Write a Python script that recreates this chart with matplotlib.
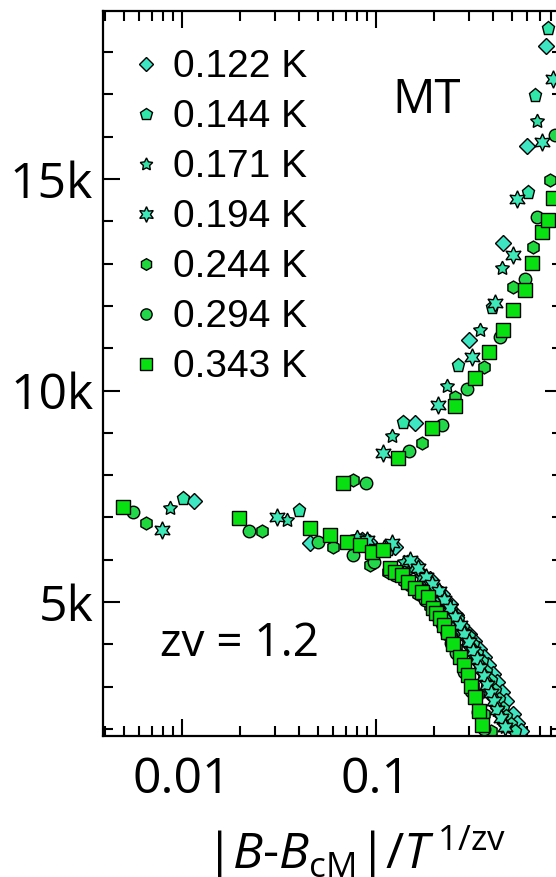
import matplotlib.pyplot as plt
from matplotlib.ticker import LogLocator, MultipleLocator, FuncFormatter, NullFormatter

plt.rcParams['font.family'] = ['Open Sans', 'DejaVu Sans']
plt.rcParams['mathtext.fontset'] = 'custom'
plt.rcParams['mathtext.rm'] = 'Open Sans'
plt.rcParams['mathtext.it'] = 'Open Sans:italic'

# scaled resistance vs scaling variable, one list pair per temperature
t122_x = [0.0116, 0.0457, 0.092, 0.125, 0.16, 0.19, 0.22, 0.24, 0.26, 0.30, 0.32, 0.34, 0.36, 0.38, 0.40,
          0.42, 0.445, 0.47, 0.51, 0.535, 0.56,
          0.1589, 0.3026, 0.4529, 0.6023, 0.7518]
t122_y = [7390, 6390, 6420, 6300, 5900, 5550, 5200, 4950, 4700, 4250, 4080, 3900, 3700, 3500, 3300,
          3100, 2880, 2650, 2350, 2150, 1950,
          9225, 11190, 13480, 15780, 18140]

t144_x = [0.0101, 0.0402, 0.085, 0.115, 0.145, 0.175, 0.19, 0.21, 0.23, 0.245, 0.265, 0.28, 0.30, 0.315,
          0.33, 0.35, 0.37, 0.39, 0.41, 0.43, 0.45, 0.47, 0.495, 0.52,
          0.1373, 0.2656, 0.3948, 0.6096, 0.6601, 0.7727]
t144_y = [7450, 7175, 6500, 6250, 5950, 5650, 5450, 5250, 5000, 4800, 4600, 4400, 4200, 4000,
          3800, 3600, 3380, 3150, 2930, 2700, 2500, 2300, 2120, 1950,
          9250, 10600, 11980, 14700, 16990, 18560]

t171_x = [0.00867, 0.0346, 0.0795, 0.11, 0.14, 0.155, 0.17, 0.185, 0.20, 0.215, 0.23, 0.245, 0.26, 0.275,
          0.29, 0.305, 0.32, 0.335, 0.35, 0.365, 0.38, 0.40, 0.42, 0.44, 0.46,
          0.1205, 0.2314, 0.3436, 0.4444, 0.6783]
t171_y = [7220, 6940, 6540, 6300, 5950, 5780, 5600, 5420, 5250, 5050, 4850, 4650, 4450, 4270,
          4100, 3900, 3700, 3500, 3300, 3100, 2900, 2680, 2450, 2250, 2050,
          8925, 10110, 11430, 12890, 16380]

t194_x = [0.00786, 0.0308, 0.09, 0.1205, 0.15, 0.165, 0.18, 0.195, 0.21, 0.225, 0.24, 0.255, 0.27, 0.285,
          0.30, 0.315, 0.33, 0.345, 0.36, 0.375, 0.39, 0.405, 0.42, 0.44, 0.46,
          0.1083, 0.2094, 0.3113, 0.4105, 0.5101, 0.531, 0.7146, 0.8202]
t194_y = [6700, 7020, 6470, 6390, 6000, 5800, 5600, 5420, 5250, 5050, 4850, 4650, 4450, 4250,
          4050, 3850, 3650, 3450, 3250, 3050, 2850, 2650, 2450, 2250, 2050,
          8515, 9655, 10800, 12060, 13200, 14520, 15880, 17360]

t244_x = [0.00652, 0.0259, 0.0602, 0.0931, 0.115, 0.14, 0.165, 0.19, 0.215, 0.23, 0.245, 0.26, 0.275,
          0.30, 0.315, 0.33, 0.36, 0.39,
          0.0764, 0.172, 0.2554, 0.3603, 0.5101, 0.6469, 0.7885]
t244_y = [6860, 6690, 6310, 5875, 5700, 5500, 5200, 4900, 4550, 4350, 4150, 3920, 3700,
          3250, 3020, 2800, 2350, 1950,
          7885, 8750, 9855, 10565, 12455, 13400, 14975]

t294_x = [0.00561, 0.0222, 0.0504, 0.0764, 0.098, 0.125, 0.150, 0.178, 0.205, 0.22, 0.232, 0.245, 0.26,
          0.285, 0.31, 0.335, 0.36,
          0.0888, 0.1484, 0.2181, 0.2934, 0.4356, 0.5861, 0.6736, 0.8369]
t294_y = [7135, 6690, 6425, 6110, 5950, 5650, 5400, 5050, 4700, 4480, 4250, 4020, 3800,
          3350, 2900, 2400, 2000,
          7820, 8580, 9185, 10030, 11270, 12630, 14110, 16040]

t343_x = [0.00495, 0.0197, 0.0457, 0.0579, 0.0706, 0.0827, 0.095, 0.1091, 0.1181, 0.125, 0.1357, 0.147,
          0.1589, 0.172, 0.186, 0.1974, 0.205, 0.2137, 0.225, 0.2359, 0.25, 0.27, 0.285, 0.299, 0.31,
          0.3237, 0.338, 0.3506,
          0.0678, 0.1302, 0.1937, 0.2554, 0.3237, 0.3837, 0.4497, 0.5101, 0.5861, 0.6348, 0.7146, 0.7727, 0.8202]
t343_y = [7255, 6980, 6745, 6585, 6425, 6350, 6190, 6230, 5795, 5720, 5640, 5480,
          5325, 5230, 5125, 4850, 4730, 4615, 4450, 4300, 4000, 3705, 3500, 3275, 3020,
          2760, 2430, 2095,
          7805, 8395, 9120, 9635, 10290, 10915, 11430, 11905, 12375, 13020, 13755, 14030, 14545]

labels = ['0.122 K', '0.144 K', '0.171 K', '0.194 K', '0.244 K', '0.294 K', '0.343 K']
xs = [t122_x, t144_x, t171_x, t194_x, t244_x, t294_x, t343_x]
ys = [t122_y, t144_y, t171_y, t194_y, t244_y, t294_y, t343_y]
markers = ['D', 'p', (5, 1, 0), (6, 1, 0), 'h', 'o', 's']
sizes = [8, 9.8, 10.5, 12.5, 9.3, 9, 10]
colors = ['#3ee6c4', '#30e6a8', '#34e0a6', '#3fe8b8', '#1ed83c', '#22d84a', '#08e012']

fig = plt.figure(figsize=(5.56, 8.77), dpi=100)
ax = fig.add_axes([0.18525, 0.16078, 0.82554, 0.82668])

for x, y, lab, m, ms, c in zip(xs, ys, labels, markers, sizes, colors):
    ax.plot(x, y, linestyle='none', marker=m, ms=ms, mfc=c, mec='k', mew=1.0, label=lab)

ax.set_xscale('log')
ax.set_xlim(0.003916, 0.9095)
ax.set_ylim(1833, 18972)

ax.xaxis.set_major_locator(LogLocator(base=10))
ax.xaxis.set_major_formatter(FuncFormatter(lambda v, p: f'{v:g}'))
ax.xaxis.set_minor_locator(LogLocator(base=10, subs=range(2, 10)))
ax.xaxis.set_minor_formatter(NullFormatter())
ax.yaxis.set_major_locator(MultipleLocator(5000))
ax.yaxis.set_major_formatter(FuncFormatter(lambda v, p: f'{int(v / 1000)}k'))
ax.yaxis.set_minor_locator(MultipleLocator(1000))

ax.tick_params(which='both', direction='in', top=True, right=True, width=1.5, labelsize=36)
ax.tick_params(which='major', length=12)
ax.tick_params(which='minor', length=7.5)
ax.tick_params(axis='x', pad=14)
ax.tick_params(axis='y', pad=7)
for s in ax.spines.values():
    s.set_linewidth(1.6)

fig.text(427 / 556, 1 - 100 / 877, 'MT', ha='center', va='center', fontsize=34)
fig.text(240 / 556, 1 - 644 / 877, 'zv = 1.2', ha='center', va='center', fontsize=33)
fig.text(356 / 556, 0.009, r'$|B$-$B_{\mathrm{cM}}|/T^{\,\mathrm{1/zv}}$', ha='center', va='baseline', fontsize=36)

ax.legend(loc='upper left', bbox_to_anchor=(0.06, 0.947), frameon=False,
          prop={'family': 'Liberation Sans', 'size': 28}, handlelength=0.8, handletextpad=0.3,
          labelspacing=0.36, markerscale=0.9, borderaxespad=0, borderpad=0)

fig.savefig('out.png', dpi=100)
